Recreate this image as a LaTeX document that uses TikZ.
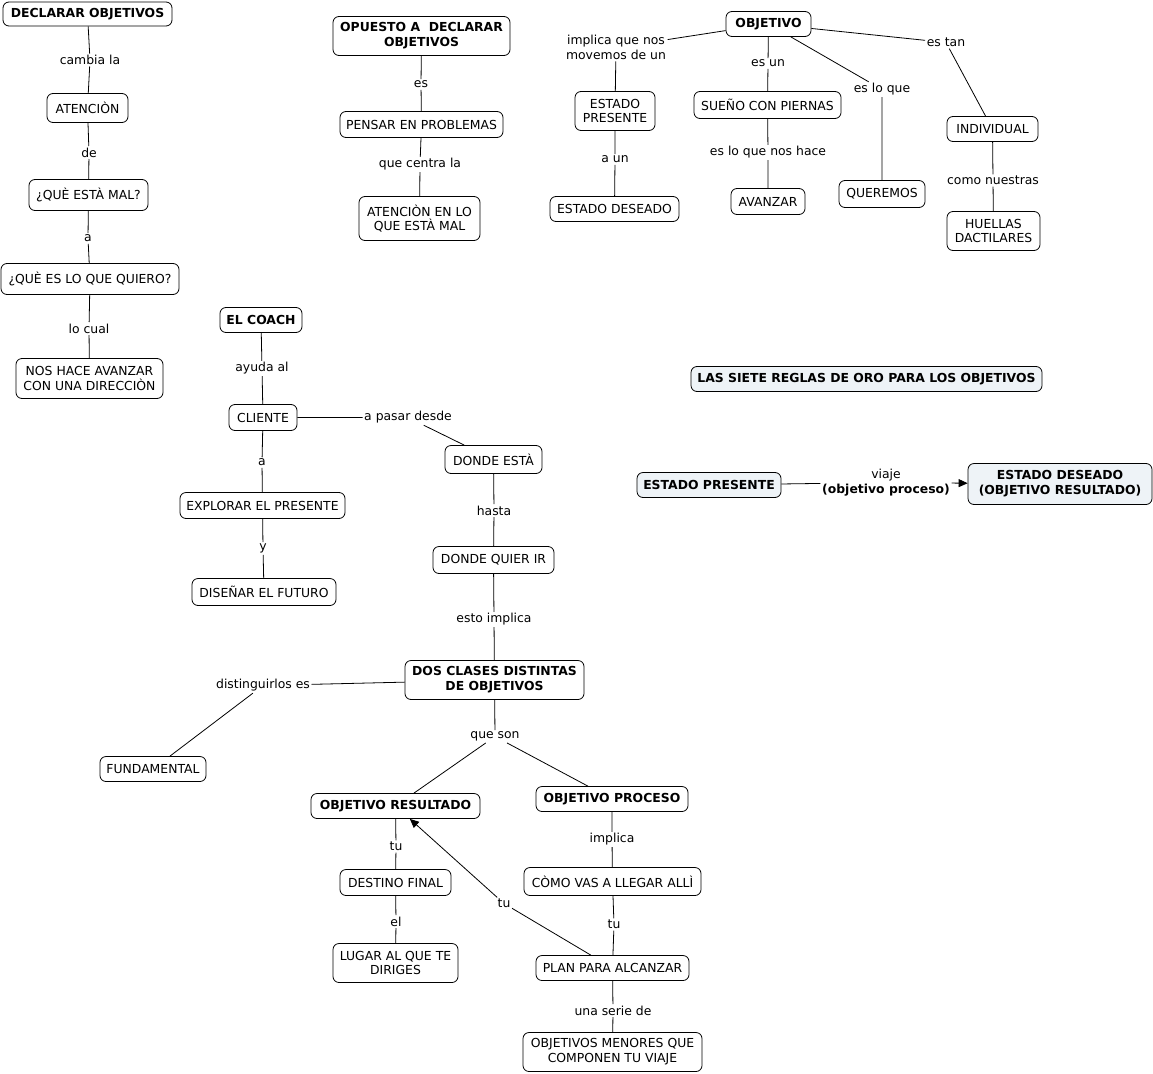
\documentclass[tikz,border=0pt]{standalone}
\usepackage{fontspec}
\setmainfont{DejaVu Sans}
\usetikzlibrary{arrows.meta}
\definecolor{cfill}{HTML}{EEF3F7}
\begin{document}
\begin{tikzpicture}[x=1pt,y=-1pt,
  concept/.style={draw,rounded corners=6pt,line width=0.8pt,align=center,inner sep=2pt,font=\fontsize{12.4}{14.8}\selectfont},
  bconcept/.style={concept,font=\fontsize{12.4}{14.8}\selectfont\bfseries},
  wh/.style 2 args={minimum width=#1pt,minimum height=#2pt},
  lbl/.style={inner sep=1.5pt,align=center,font=\fontsize{12.4}{14.8}\selectfont,fill=white},
  link/.style={line width=0.8pt},
  tip/.style={-{Triangle[length=9pt,width=8pt]}}
]
\useasboundingbox (0,0) rectangle (1153,1073);
\fill[white] (0,0) rectangle (1153,1073);

% left column
\node[bconcept,wh={169}{24}] (declarar) at (87.5,14) {DECLARAR OBJETIVOS};
\node[concept,wh={81}{29}] (atencion) at (87.5,108) {ATENCIÒN};
\node[concept,wh={119}{31}] (quemal) at (88.5,195) {¿QUÈ ESTÀ MAL?};
\node[concept,wh={178}{31}] (quiero) at (90,279) {¿QUÈ ES LO QUE QUIERO?};
\node[concept,wh={147}{40}] (nos) at (89.5,378.5) {NOS HACE AVANZAR\\CON UNA DIRECCIÒN};
\node[lbl] (l1) at (90,60) {cambia la};
\node[lbl] (l2) at (89,152.5) {de};
\node[lbl] (l3) at (88,238.5) {a};
\node[lbl] (l4) at (89,328.5) {lo cual};
\draw[link] (declarar) -- (l1) -- (atencion);
\draw[link] (atencion) -- (l2) -- (quemal);
\draw[link] (quemal) -- (l3) -- (quiero);
\draw[link] (quiero) -- (l4) -- (nos);

% opuesto
\node[bconcept,wh={177}{39}] (opuesto) at (421.5,36) {OPUESTO A \ DECLARAR\\OBJETIVOS};
\node[concept,wh={163}{26}] (pensar) at (421.5,124.5) {PENSAR EN PROBLEMAS};
\node[concept,wh={121}{44}] (atlo) at (419.5,218.5) {ATENCIÒN EN LO\\QUE ESTÀ MAL};
\node[lbl] (l5) at (421,84.5) {es};
\node[lbl] (l6) at (420,164.5) {que centra la};
\draw[link] (opuesto) -- (l5) -- (pensar);
\draw[link] (pensar) -- (l6) -- (atlo);

% objetivo
\node[bconcept,wh={85}{25}] (objetivo) at (768.5,24) {OBJETIVO};
\node[concept,wh={80}{39}] (epres) at (615,111) {ESTADO\\PRESENTE};
\node[concept,wh={129}{25}] (edes) at (614.5,209) {ESTADO DESEADO};
\node[concept,wh={147}{27}] (sueno) at (767.5,105) {SUEÑO CON PIERNAS};
\node[concept,wh={74}{26}] (avanzar) at (768,201.5) {AVANZAR};
\node[concept,wh={86}{27}] (queremos) at (882,194) {QUEREMOS};
\node[concept,wh={91}{25}] (individual) at (992.5,129) {INDIVIDUAL};
\node[concept,wh={93}{39}] (huellas) at (993.5,231) {HUELLAS\\DACTILARES};
\node[lbl] (l7) at (616,47.5) {implica que nos\\movemos de un};
\node[lbl] (l8) at (768,63.5) {es un};
\node[lbl] (l9) at (882,89.5) {es lo que};
\node[lbl] (l10) at (946,42.5) {es tan};
\node[lbl] (l11) at (615,159.5) {a un};
\node[lbl] (l12) at (768,152.5) {es lo que nos hace};
\node[lbl] (l13) at (993,180.5) {como nuestras};
\draw[link] (objetivo) -- (l7) -- (epres);
\draw[link] (epres) -- (l11) -- (edes);
\draw[link] (objetivo) -- (l8) -- (sueno);
\draw[link] (sueno) -- (l12) -- (avanzar);
\draw[link] (objetivo) -- (l9) -- (queremos);
\draw[link] (objetivo) -- (l10) -- (individual);
\draw[link] (individual) -- (l13) -- (huellas);

% coach
\node[bconcept,wh={82}{25}] (coach) at (261,320) {EL COACH};
\node[concept,wh={68}{26}] (cliente) at (263,417.5) {CLIENTE};
\node[concept,wh={165}{26}] (explorar) at (262.5,505.5) {EXPLORAR EL PRESENTE};
\node[concept,wh={144}{27}] (disenar) at (264,592) {DISEÑAR EL FUTURO};
\node[concept,wh={97}{28}] (donde) at (493.5,459.5) {DONDE ESTÀ};
\node[concept,wh={121}{27}] (quierir) at (493.5,560) {DONDE QUIER IR};
\node[bconcept,wh={179}{39}] (dos) at (494.5,680) {DOS CLASES DISTINTAS\\DE OBJETIVOS};
\node[concept,wh={106}{25}] (fund) at (153,769) {FUNDAMENTAL};
\node[bconcept,wh={169}{25}] (ores) at (395.5,806) {OBJETIVO RESULTADO};
\node[bconcept,wh={152}{25}] (oproc) at (612,799) {OBJETIVO PROCESO};
\node[concept,wh={111}{26}] (destino) at (395.5,882.5) {DESTINO FINAL};
\node[concept,wh={125}{39}] (lugar) at (395.5,963) {LUGAR AL QUE TE\\DIRIGES};
\node[concept,wh={177}{28}] (como) at (612.5,881.5) {CÒMO VAS A LLEGAR ALLÌ};
\node[concept,wh={153}{25}] (plan) at (612.5,968) {PLAN PARA ALCANZAR};
\node[concept,wh={179}{39}] (menores) at (612.5,1052) {OBJETIVOS MENORES QUE\\COMPONEN TU VIAJE};
\node[lbl] (l14) at (262,368.5) {ayuda al};
\node[lbl] (l15) at (408,417.5) {a pasar desde};
\node[lbl] (l16) at (262,462.5) {a};
\node[lbl] (l17) at (263,548.5) {y};
\node[lbl] (l18) at (494,510.5) {hasta};
\node[lbl] (l19) at (494,619.5) {esto implica};
\node[lbl] (l20) at (263,685.5) {distinguirlos es};
\node[lbl] (l21) at (495,736.5) {que son};
\node[lbl] (l22) at (396,846.5) {tu};
\node[lbl] (l23) at (396,921.5) {el};
\node[lbl] (l24) at (612,839.5) {implica};
\node[lbl] (l25) at (614,924.5) {tu};
\node[lbl] (l26) at (504,903.5) {tu};
\node[lbl] (l27) at (613,1010.5) {una serie de};
\draw[link] (coach) -- (l14) -- (cliente);
\draw[link] (cliente) -- (l15) -- (donde);
\draw[link] (cliente) -- (l16) -- (explorar);
\draw[link] (explorar) -- (l17) -- (disenar);
\draw[link] (donde) -- (l18) -- (quierir);
\draw[link] (quierir) -- (l19) -- (dos);
\draw[link] (dos) -- (l20) -- (fund);
\draw[link] (dos) -- (l21) -- (ores);
\draw[link] (l21) -- (oproc);
\draw[link] (ores) -- (l22) -- (destino);
\draw[link] (destino) -- (l23) -- (lugar);
\draw[link] (oproc) -- (l24) -- (como);
\draw[link] (como) -- (l25) -- (plan);
\draw[link] (plan) -- (l27) -- (menores);
\draw[link] (plan) -- (l26);
\draw[link,tip] (l26) -- (ores);

% right side
\node[bconcept,fill=cfill,wh={351}{25}] (siete) at (866.5,379) {LAS SIETE REGLAS DE ORO PARA LOS OBJETIVOS};
\node[bconcept,fill=cfill,wh={144}{25}] (epres2) at (709,485) {ESTADO PRESENTE};
\node[bconcept,fill=cfill,wh={184}{41}] (edes2) at (1060,484) {ESTADO DESEADO\\(OBJETIVO RESULTADO)};
\node[lbl] (l28) at (886,482.5) {viaje\\\textbf{(objetivo proceso)}};
\draw[link] (epres2) -- (l28);
\draw[link,tip] (l28) -- (edes2);
\end{tikzpicture}
\end{document}
